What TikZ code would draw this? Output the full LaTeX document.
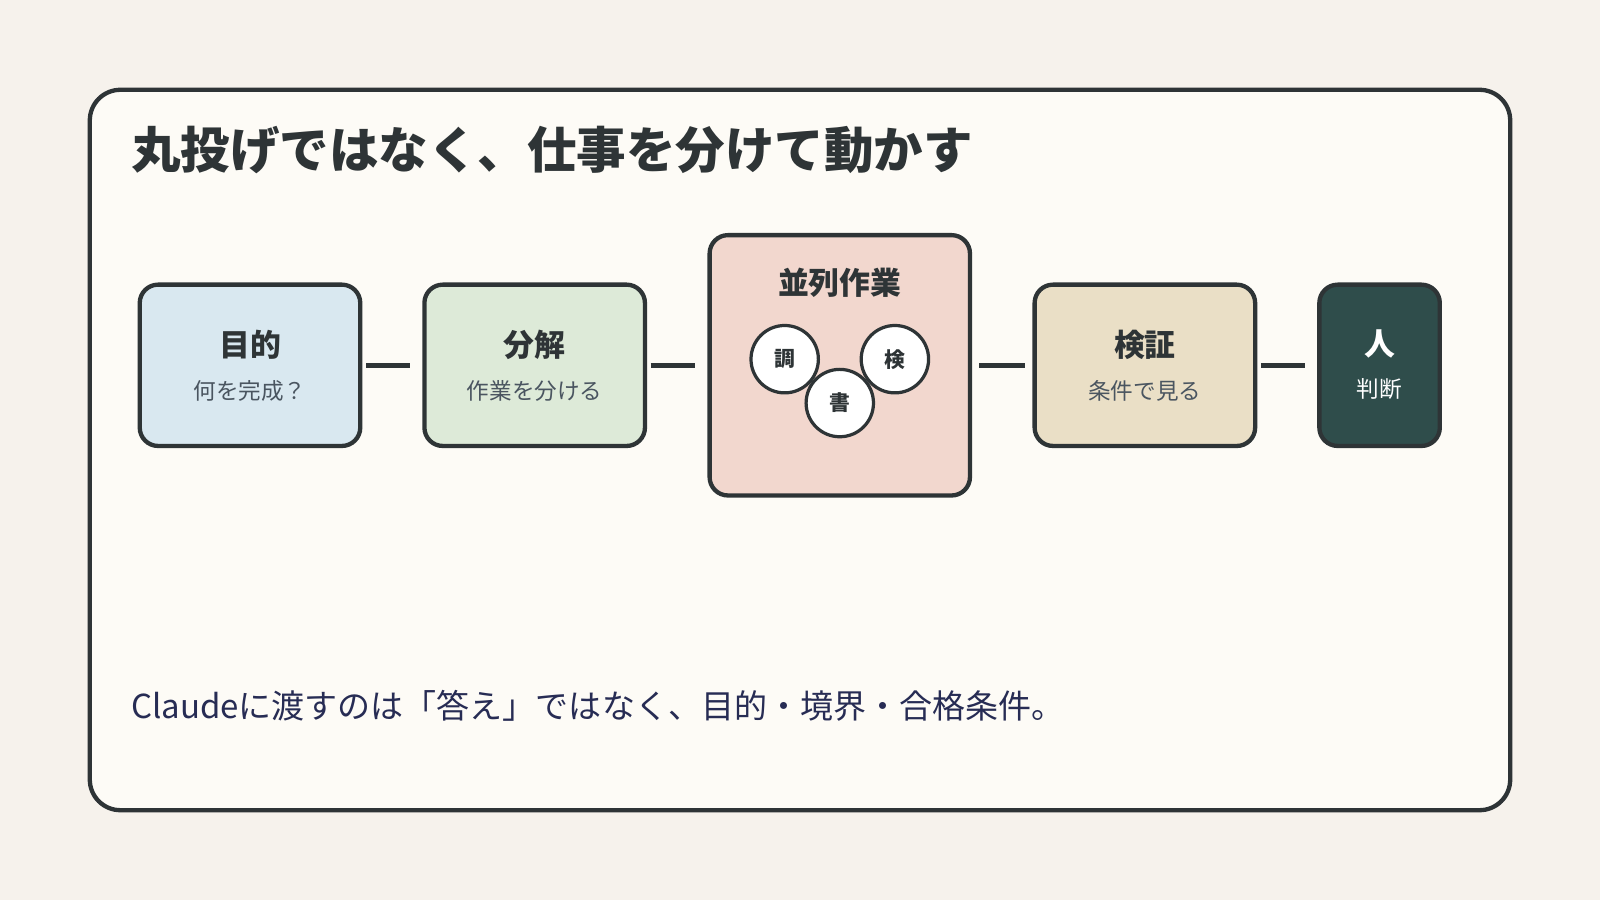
\documentclass[tikz,border=0pt]{standalone}
\usepackage{fontspec}
\setmainfont{Noto Sans CJK JP}
\usepackage{tikz}
\usetikzlibrary{arrows}
\usetikzlibrary{positioning}
\usepackage{xcolor}
\definecolor{bgpage}{HTML}{F6F2EC}
\definecolor{bgcard}{HTML}{FDFBF6}
\definecolor{ink}{HTML}{2E3436}
\definecolor{subink}{HTML}{4A5560}
\definecolor{cgoal}{HTML}{D9E8F0}
\definecolor{csplit}{HTML}{DDEAD8}
\definecolor{cpar}{HTML}{F2D7CE}
\definecolor{ccheck}{HTML}{EADFC6}
\definecolor{chuman}{HTML}{2F4D4B}

\begin{document}
\begin{tikzpicture}[x=0.01cm,y=-0.01cm]
		\tikzstyle{stage} = [draw=ink, line width=1.2pt, rounded corners=0.18cm, inner sep=0pt]
		\tikzstyle{head} = [font=\bfseries\fontsize{8.6}{10}\selectfont, text=ink]
		\tikzstyle{sub} = [font=\fontsize{6.3}{8}\selectfont, text=subink]
		\tikzstyle{worker} = [circle, draw=ink, line width=0.9pt, fill=white, minimum size=0.66cm, inner sep=0pt, font=\bfseries\fontsize{5.8}{7}\selectfont, text=ink]
		\tikzstyle{link} = [draw=ink, line width=1.5pt]
		% page and card
		\fill[bgpage] (0,0) rectangle (1568,882);
		\draw[draw=ink, fill=bgcard, line width=1.2pt, rounded corners=0.3cm] (88,88) rectangle (1480,794);
		\node[anchor=base west, font=\bfseries\fontsize{13.8}{16}\selectfont, text=ink] (title) at (116,165) {丸投げではなく、仕事を分けて動かす};
		% stages
		\node[stage, fill=cgoal, minimum width=2.16cm, minimum height=1.58cm] (goal) at (245,358) {};
		\node[stage, fill=csplit, minimum width=2.16cm, minimum height=1.58cm] (split) at (524,358) {};
		\node[stage, fill=cpar, minimum width=2.55cm, minimum height=2.55cm] (par) at (823,358) {};
		\node[stage, fill=ccheck, minimum width=2.16cm, minimum height=1.58cm] (check) at (1122,358) {};
		\node[stage, fill=chuman, minimum width=1.18cm, minimum height=1.58cm] (human) at (1352,358) {};
		\node[head] (goalh) at (245,338) {目的};
		\node[sub] (goals) at (245,383) {何を完成？};
		\node[head] (splith) at (524,338) {分解};
		\node[sub] (splits) at (524,383) {作業を分ける};
		\node[head] (parh) at (823,277) {並列作業};
		\node[head] (checkh) at (1122,338) {検証};
		\node[sub] (checks) at (1122,383) {条件で見る};
		\node[head, text=white] (humanh) at (1352,337) {人};
		\node[sub, text=white] (humans) at (1352,381) {判断};
		% workers
		\node[worker] (w1) at (769,352) {調};
		\node[worker] (w2) at (877,352) {検};
		\node[worker] (w3) at (823,395) {書};
		% links
		\draw[link, shorten <=1pt, shorten >=0.12cm] (goal) -- (split);
		\draw[link, shorten <=1pt, shorten >=0.12cm] (split) -- (par);
		\draw[link, shorten <=0.07cm, shorten >=0.07cm] (par) -- (check);
		\draw[link, shorten <=1pt, shorten >=0.12cm] (check) -- (human);
		\node[anchor=base west, font=\fontsize{9.2}{11}\selectfont, text=ink!85!blue] (note) at (116,704) {Claudeに渡すのは「答え」ではなく、目的・境界・合格条件。};
		\end{tikzpicture}
\end{document}
